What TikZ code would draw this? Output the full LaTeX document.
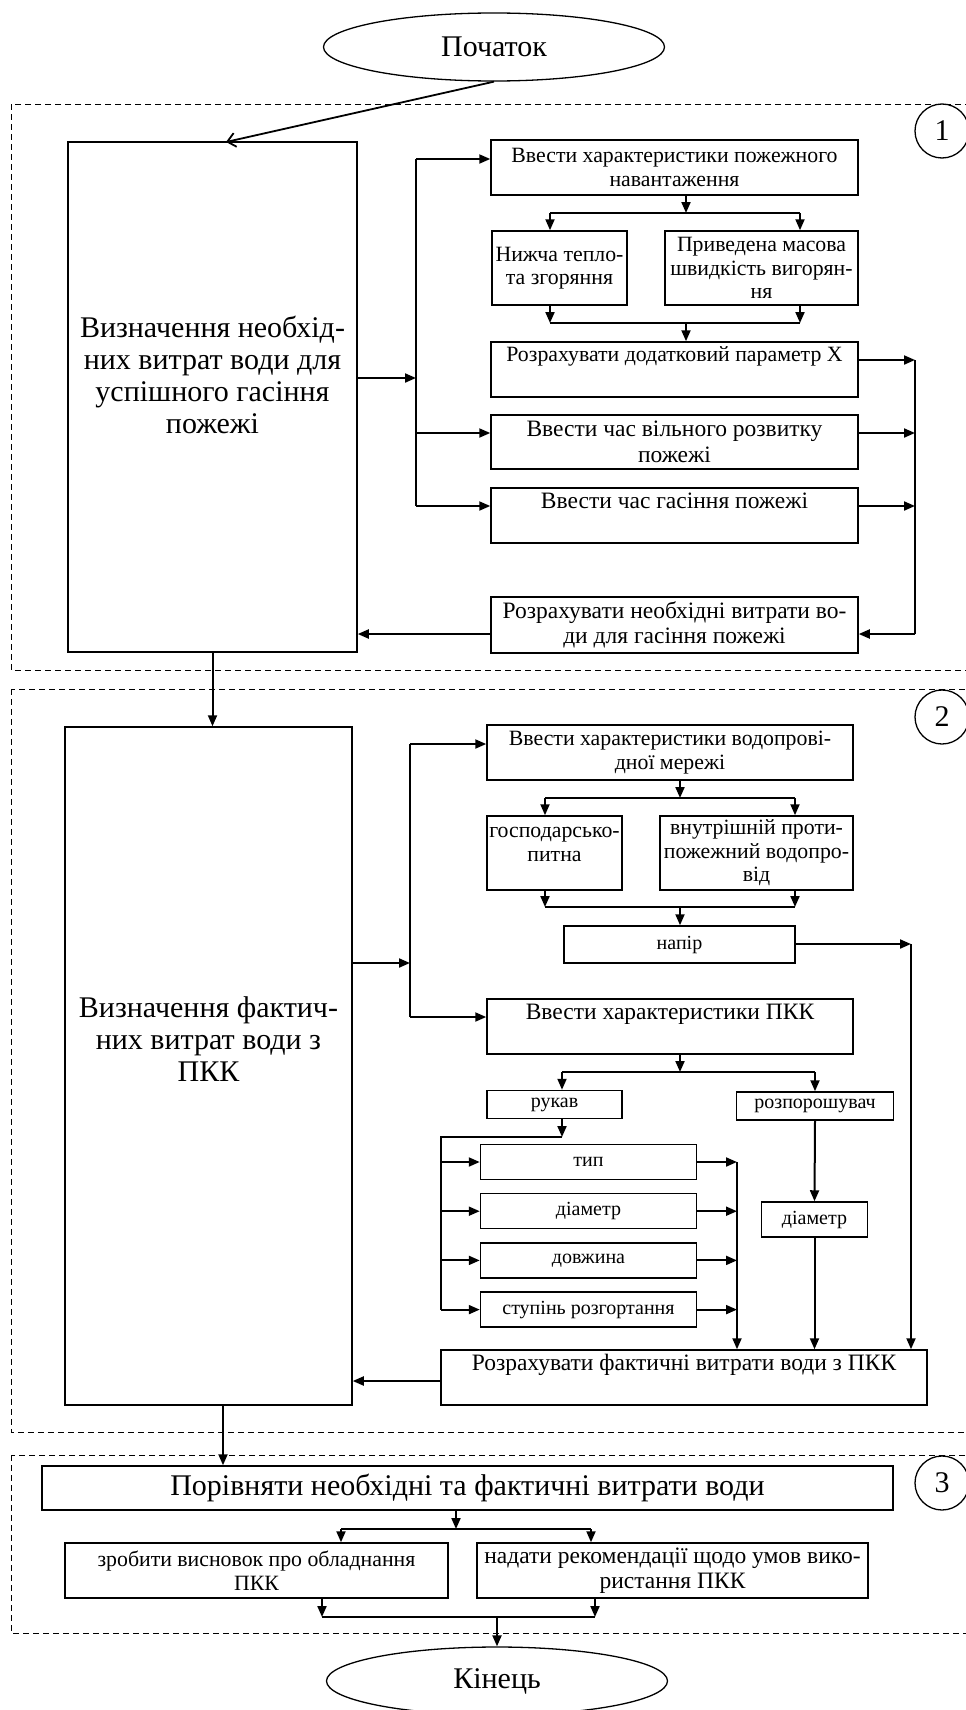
\documentclass[tikz,border=0pt]{standalone}
\usepackage{fontspec}
\setmainfont{Liberation Serif}
\usepackage{tikz}
\usetikzlibrary{shapes.geometric, arrows.meta}
\newcommand{\fbig}{\fontsize{30}{32}\selectfont}
\newcommand{\flarge}{\fontsize{23.5}{25.5}\selectfont}
\newcommand{\fmed}{\fontsize{21.8}{23.5}\selectfont}
\newcommand{\fsmall}{\fontsize{20}{22}\selectfont}
\tikzset{
  procbox/.style={draw, line width=1.5pt, inner sep=1pt, align=center, font=\fmed},
  largebox/.style={procbox, font=\flarge},
  smallbox/.style={procbox, font=\fsmall},
  titlebox/.style={procbox, font=\fbig},
  toptext/.style={text depth=30pt},
  termnode/.style={draw, ellipse, line width=1.3pt, minimum width=341pt, minimum height=68pt,
    inner sep=0pt, font=\fbig},
  stagecircle/.style={draw, circle, line width=1.3pt, minimum size=54pt, inner sep=0pt, font=\fbig},
  stageframe/.style={line width=1pt, dash pattern=on 6pt off 4pt},
  flowline/.style={line width=2pt},
  flowarrow/.style={flowline, -{Triangle[length=11pt, width=9pt]}},
  startarrow/.style={line width=1.8pt, -{Straight Barb[length=8pt, width=14pt]}},
}

\begin{document}
\begin{tikzpicture}[x=1pt, y=-1pt]
  \clip (0,0) rectangle (966,1710);

  % stage frames
  \draw[stageframe] (11,104) rectangle (990,670);
  \draw[stageframe] (11,689) rectangle (990,1432);
  \draw[stageframe] (11,1455) rectangle (990,1633);
  \node[stagecircle] (st1) at (942,131) {1};
  \node[stagecircle] (st2) at (942,717) {2};
  \node[stagecircle] (st3) at (942,1483) {3};

  \node[termnode] (start) at (494,47) {Початок};
  \node[termnode] (stop) at (497,1681) {Кінець};

  % stage 1
  \node[titlebox, minimum width=289pt, minimum height=510pt, text depth=44pt] (need) at (212.5,397)
    {Визначення необхід-\\них витрат води для\\успішного гасіння\\пожежі};
  \node[procbox, minimum width=367pt, minimum height=55pt] (inA) at (674.5,167.5)
    {Ввести характеристики пожежного\\навантаження};
  \node[procbox, minimum width=135pt, minimum height=74pt] (heat) at (559.5,268)
    {Нижча тепло-\\та згоряння};
  \node[procbox, minimum width=193pt, minimum height=74pt] (burn) at (761.5,268)
    {Приведена масова\\швидкість вигорян-\\ня};
  \node[procbox, toptext, minimum width=367pt, minimum height=55pt] (calcx) at (674.5,369.5)
    {Розрахувати додатковий параметр Х};
  \node[largebox, minimum width=367pt, minimum height=54pt] (tfree) at (674.5,442)
    {Ввести час вільного розвитку\\пожежі};
  \node[largebox, toptext, minimum width=367pt, minimum height=55pt] (tfire) at (674.5,515.5)
    {Ввести час гасіння пожежі};
  \node[largebox, minimum width=367pt, minimum height=56pt] (calcq) at (674.5,625)
    {Розрахувати необхідні витрати во-\\ди для гасіння пожежі};

  % stage 2
  \node[titlebox, minimum width=287pt, minimum height=678pt, text depth=54pt] (real) at (208.5,1066)
    {Визначення фактич-\\них витрат води з\\ПКК};
  \node[procbox, minimum width=366pt, minimum height=55pt] (inG) at (670,752.5)
    {Ввести характеристики водопрові-\\дної мережі};
  \node[procbox, minimum width=135pt, minimum height=74pt, text depth=17pt] (house) at (554.5,853)
    {господарсько-\\питна};
  \node[procbox, minimum width=193pt, minimum height=74pt] (inner) at (756.5,853)
    {внутрішній проти-\\пожежний водопро-\\від};
  \node[smallbox, minimum width=231pt, minimum height=37pt] (head) at (679.5,944.5) {напір};
  \node[largebox, toptext, minimum width=366pt, minimum height=55pt] (inJ) at (670,1026.5)
    {Ввести характеристики ПКК};
  \node[smallbox, minimum width=135pt, minimum height=28pt] (hose) at (554.5,1104.5) {рукав};
  \node[smallbox, minimum width=157pt, minimum height=28pt] (spray) at (815,1106) {розпорошувач};
  \foreach \n/\t [count=\i from 0] in {htype/тип, hdiam/діаметр, hlen/довжина, hdeg/ступінь розгортання}
    \node[smallbox, minimum width=216pt, minimum height=35pt] (\n) at (588.5,{1162+49.2*\i}) {\t};
  \node[smallbox, minimum width=106pt, minimum height=35pt] (sdiam) at (814.5,1219.5) {діаметр};
  \node[largebox, toptext, minimum width=486pt, minimum height=55pt] (calcr) at (684,1377.5)
    {Розрахувати фактичні витрати води з ПКК};

  % stage 3
  \node[titlebox, minimum width=851pt, minimum height=44pt] (cmp) at (467.5,1488)
    {Порівняти необхідні та фактичні витрати води};
  \node[procbox, minimum width=383pt, minimum height=55pt] (concl) at (256.5,1570.5)
    {зробити висновок про обладнання\\ПКК};
  \node[largebox, minimum width=391pt, minimum height=55pt] (recom) at (672.5,1570.5)
    {надати рекомендації щодо умов вико-\\ристання ПКК};

  % connectors, stage 1
  \coordinate (needin) at (226,142);
  \draw[startarrow] (start.south) -- (needin);
  \coordinate (s1top) at (416,159);
  \coordinate (s1d) at (416,433);
  \coordinate (s1bot) at (416,506);
  \coordinate (s1mid) at (416,378);
  \draw[flowline] (s1top) -- (s1bot);
  \draw[flowarrow] (need.east |- s1mid) -- (s1mid);
  \draw[flowarrow] (s1top) -- (s1top -| inA.west);
  \draw[flowarrow] (s1d) -- (s1d -| tfree.west);
  \draw[flowarrow] (s1bot) -- (s1bot -| tfire.west);

  \coordinate (j1) at (686,213);
  \coordinate (j1l) at (550,213);
  \coordinate (j1r) at (800,213);
  \draw[flowarrow] (inA.south -| j1) -- (j1);
  \draw[flowline] (j1l) -- (j1r);
  \draw[flowarrow] (j1l) -- (j1l |- heat.north);
  \draw[flowarrow] (j1r) -- (j1r |- burn.north);
  \coordinate (k1) at (686,323);
  \coordinate (k1l) at (550,323);
  \coordinate (k1r) at (800,323);
  \draw[flowarrow] (heat.south -| k1l) -- (k1l);
  \draw[flowarrow] (burn.south -| k1r) -- (k1r);
  \draw[flowline] (k1l) -- (k1r);
  \draw[flowarrow] (k1) -- (k1 |- calcx.north);

  \coordinate (r1top) at (915,360);
  \coordinate (r1d) at (915,433);
  \coordinate (r1e) at (915,506);
  \coordinate (r1bot) at (915,634);
  \draw[flowline] (r1top) -- (r1bot);
  \draw[flowarrow] (calcx.east |- r1top) -- (r1top);
  \draw[flowarrow] (tfree.east |- r1d) -- (r1d);
  \draw[flowarrow] (tfire.east |- r1e) -- (r1e);
  \draw[flowarrow] (r1bot) -- (r1bot -| calcq.east);
  \draw[flowarrow] (calcq.west |- r1bot) -- (r1bot -| need.east);
  \draw[flowarrow] (need.south) -- (need.south |- real.north);

  % connectors, stage 2
  \coordinate (s2top) at (410,744);
  \coordinate (s2mid) at (410,963);
  \coordinate (s2bot) at (410,1017);
  \draw[flowline] (s2top) -- (s2bot);
  \draw[flowarrow] (real.east |- s2mid) -- (s2mid);
  \draw[flowarrow] (s2top) -- (s2top -| inG.west);
  \draw[flowarrow] (s2bot) -- (s2bot -| inJ.west);

  \coordinate (j2) at (680,798);
  \coordinate (j2l) at (545,798);
  \coordinate (j2r) at (795,798);
  \draw[flowarrow] (inG.south -| j2) -- (j2);
  \draw[flowline] (j2l) -- (j2r);
  \draw[flowarrow] (j2l) -- (j2l |- house.north);
  \draw[flowarrow] (j2r) -- (j2r |- inner.north);
  \coordinate (k2) at (680,907);
  \coordinate (k2l) at (545,907);
  \coordinate (k2r) at (795,907);
  \draw[flowarrow] (house.south -| k2l) -- (k2l);
  \draw[flowarrow] (inner.south -| k2r) -- (k2r);
  \draw[flowline] (k2l) -- (k2r);
  \draw[flowarrow] (k2) -- (k2 |- head.north);
  \coordinate (r2) at (911,944);
  \draw[flowarrow] (head.east |- r2) -- (r2);
  \draw[flowarrow] (r2) -- (r2 |- calcr.north);

  \coordinate (j3) at (680,1072);
  \coordinate (j3l) at (562,1072);
  \coordinate (j3r) at (815,1072);
  \draw[flowarrow] (inJ.south -| j3) -- (j3);
  \draw[flowline] (j3l) -- (j3r);
  \draw[flowarrow] (j3l) -- (j3l |- hose.north);
  \draw[flowarrow] (j3r) -- (j3r |- spray.north);
  \coordinate (h1) at (562,1137);
  \coordinate (h2) at (441,1137);
  \coordinate (hcol) at (737,1162);
  \draw[flowarrow] (hose.south -| h1) -- (h1);
  \draw[flowline] (h1) -- (h2) -- (h2 |- hdeg.west);
  \foreach \n in {htype, hdiam, hlen, hdeg} {
    \draw[flowarrow] (h2 |- \n.west) -- (\n.west);
    \draw[flowarrow] (\n.east) -- (\n.east -| hcol);
  }
  \draw[flowarrow] (hcol) -- (hcol |- calcr.north);
  \draw[flowarrow] (spray.south) -- (sdiam.north);
  \draw[flowarrow] (sdiam.south) -- (sdiam.south |- calcr.north);
  \coordinate (q2) at (441,1381);
  \draw[flowarrow] (q2) -- (q2 -| real.east);
  \coordinate (d2) at (223,1405);
  \draw[flowarrow] (d2) -- (d2 |- cmp.north);

  % connectors, stage 3
  \coordinate (j4) at (456,1529);
  \coordinate (j4l) at (341,1529);
  \coordinate (j4r) at (591,1529);
  \draw[flowarrow] (cmp.south -| j4) -- (j4);
  \draw[flowline] (j4l) -- (j4r);
  \draw[flowarrow] (j4l) -- (j4l |- concl.north);
  \draw[flowarrow] (j4r) -- (j4r |- recom.north);
  \coordinate (k4) at (497,1617);
  \coordinate (k4l) at (322,1617);
  \coordinate (k4r) at (595,1617);
  \draw[flowarrow] (concl.south -| k4l) -- (k4l);
  \draw[flowarrow] (recom.south -| k4r) -- (k4r);
  \draw[flowline] (k4l) -- (k4r);
  \draw[flowarrow] (k4) -- (stop.north);
\end{tikzpicture}
\end{document}
